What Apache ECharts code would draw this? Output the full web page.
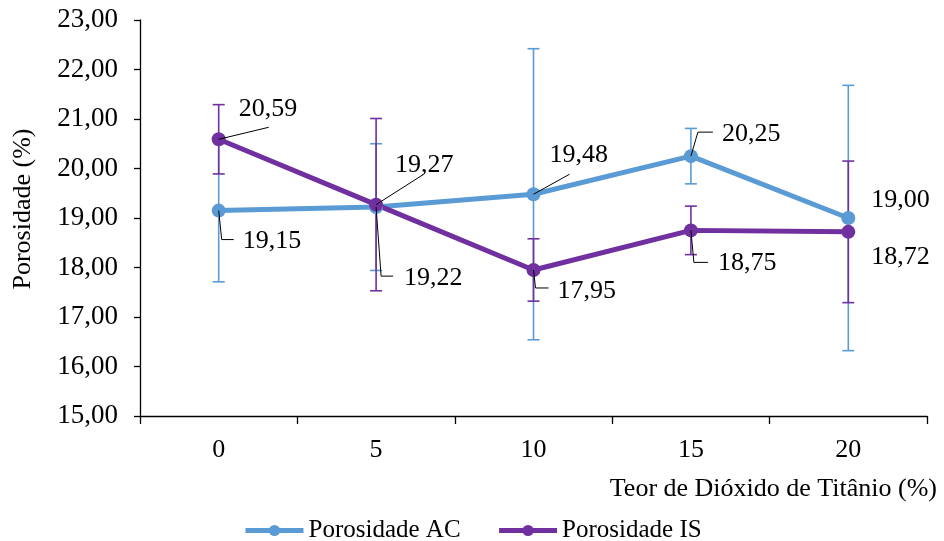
<!DOCTYPE html>
<html><head><meta charset="utf-8">
<script src="https://cdn.jsdelivr.net/npm/echarts@6/dist/echarts.min.js"></script>
<style>html,body{margin:0;padding:0;background:#fff}#c{width:944px;height:541px}</style>
</head><body><div id="c"></div>
<script>
const categories = ['0', '5', '10', '15', '20'];
const acValues = [19.15, 19.22, 19.48, 20.25, 19.00];
const isValues = [20.59, 19.27, 17.95, 18.75, 18.72];
const acErrors = [1.44, 1.28, 2.94, 0.56, 2.68];
const isErrors = [0.70, 1.74, 0.63, 0.49, 1.43];
const yMin = 15, yMax = 23, yStep = 1;

// label placement styles: [dx, dy] of label left-middle from the point, and leader-line path offsets
const acLabelOffsets = [[24, 31], [28, 71], [16, -39], [31, -22], [23, -18]];
const isLabelOffsets = [[20, -30], [19, -39], [24, 21], [27, 33], [23, 25]];
const acLeaders = [[[0,0],[3,29],[15,29]], [[0,0],[5,69],[17,69]], [[0,0],[36,-20]], [[0,0],[7,-24],[22,-24]], null];
const isLeaders = [[[0,0],[50,-12]], [[0,0],[47,-30]], [[0,0],[2,18],[15,18]], [[0,0],[3,32],[17,32]], null];

const FONT = '"Liberation Serif", "Times New Roman", serif';
const BLUE = '#5B9BD5', PURPLE = '#7030A0';
const fmt = v => v.toFixed(2).replace('.', ',');

function errorSeries(name, values, errors, color) {
  return {
    type: 'custom', name: name, silent: true,
    data: values.map((v, i) => [i, v - errors[i], v + errors[i]]),
    renderItem: function (params, api) {
      const x = api.value(0);
      const top = api.coord([x, api.value(2)]);
      const bot = api.coord([x, api.value(1)]);
      const w = 6;
      const st = { stroke: color, lineWidth: 1.6 };
      return { type: 'group', children: [
        { type: 'line', shape: { x1: top[0], y1: top[1], x2: bot[0], y2: bot[1] }, style: st },
        { type: 'line', shape: { x1: top[0] - w, y1: top[1], x2: top[0] + w, y2: top[1] }, style: st },
        { type: 'line', shape: { x1: bot[0] - w, y1: bot[1], x2: bot[0] + w, y2: bot[1] }, style: st }
      ]};
    }
  };
}

function leaderSeries(name, values, leaders) {
  return {
    type: 'custom', name: name, silent: true, z: 5,
    data: values.map((v, i) => [i, v]),
    renderItem: function (params, api) {
      const L = leaders[params.dataIndex];
      if (!L) return { type: 'group', children: [] };
      const c = api.coord([api.value(0), api.value(1)]);
      return { type: 'polyline', shape: { points: L.map(p => [c[0] + p[0], c[1] + p[1]]) },
        style: { stroke: '#000', lineWidth: 1, fill: null } };
    }
  };
}

function lineSeries(name, values, color, offsets) {
  return {
    type: 'line', name: name, data: values,
    symbol: 'circle', symbolSize: 14,
    lineStyle: { color: color, width: 5 },
    itemStyle: { color: color },
    label: { show: true, position: 'inside', formatter: p => fmt(p.value),
      fontFamily: FONT, fontSize: 26, color: '#000' },
    labelLayout: function (params) {
      const i = params.dataIndex;
      const cx = params.rect.x + params.rect.width / 2;
      const cy = params.rect.y + params.rect.height / 2;
      const o = offsets[i];
      return { x: cx + o[0], y: cy + o[1], align: 'left', verticalAlign: 'middle' };
    }
  };
}

const chart = echarts.init(document.getElementById('c'), null, { renderer: 'canvas' });
chart.setOption({
  animation: false,
  textStyle: { fontFamily: FONT },
  grid: { left: 140, right: 17, top: 20, bottom: 125 },
  legend: {
    data: ['Porosidade AC', 'Porosidade IS'], left: 238, top: 513,
    itemWidth: 58, itemHeight: 14, itemGap: 36,
    lineStyle: { width: 5 },
    textStyle: { fontFamily: FONT, fontSize: 25, color: '#000' }
  },
  xAxis: {
    type: 'category', data: categories, boundaryGap: true,
    name: 'Teor de Dióxido de Titânio (%)', nameLocation: 'end', nameGap: 10,
    nameTextStyle: { fontFamily: FONT, fontSize: 26, color: '#000', align: 'right', verticalAlign: 'top', padding: [60, 0, 0, 0] },
    axisLine: { lineStyle: { color: '#000', width: 1.3 } },
    axisTick: { show: true, length: 8, lineStyle: { color: '#000', width: 1.3 } },
    axisLabel: { fontFamily: FONT, fontSize: 26, color: '#000', margin: 21 },
    splitLine: { show: false }
  },
  yAxis: {
    type: 'value', min: yMin, max: yMax, interval: yStep,
    name: 'Porosidade (%)', nameLocation: 'middle', nameGap: 104,
    nameTextStyle: { fontFamily: FONT, fontSize: 26, color: '#000', padding: [0, 0, 0, 18] },
    axisLine: { show: true, lineStyle: { color: '#000', width: 1.3 } },
    axisTick: { show: true, length: 6, lineStyle: { color: '#000', width: 1.3 } },
    axisLabel: { fontFamily: FONT, fontSize: 27, color: '#000', margin: 22, formatter: fmt },
    splitLine: { show: false }
  },
  series: [
    errorSeries('AC erro', acValues, acErrors, BLUE),
    errorSeries('IS erro', isValues, isErrors, PURPLE),
    lineSeries('Porosidade AC', acValues, BLUE, acLabelOffsets),
    lineSeries('Porosidade IS', isValues, PURPLE, isLabelOffsets),
    leaderSeries('AC guia', acValues, acLeaders),
    leaderSeries('IS guia', isValues, isLeaders)
  ]
});
</script></body></html>
